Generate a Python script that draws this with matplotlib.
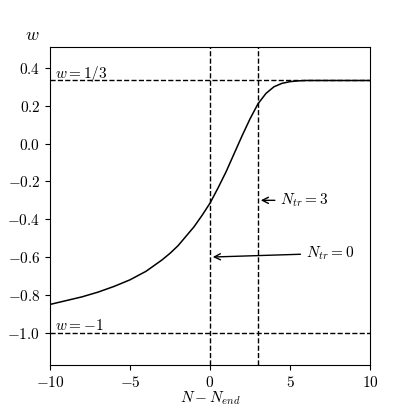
import numpy as np
import matplotlib.pyplot as plt

plt.rcParams['mathtext.fontset'] = 'cm'
plt.rcParams['font.family'] = 'serif'
plt.rcParams['font.serif'] = ['DejaVu Serif']

# curve
n = [-10, -9, -8, -7, -6, -5, -4, -3, -2.5, -2, -1.5, -1, -0.5, 0, 0.5, 1, 1.5, 2,
     2.5, 3, 3.5, 4, 4.5, 5, 5.5, 6, 7, 8, 10]
w = [-0.85, -0.83, -0.81, -0.785, -0.755, -0.72, -0.675, -0.615, -0.58, -0.54,
     -0.49, -0.44, -0.38, -0.315, -0.235, -0.15, -0.055, 0.04, 0.13, 0.21,
     0.265, 0.30, 0.318, 0.327, 0.331, 0.333, 0.333, 0.333, 0.333]
xticks = [-10, -5, 0, 5, 10]
yticks = [-1.0, -0.8, -0.6, -0.4, -0.2, 0.0, 0.2, 0.4]

fig = plt.figure(figsize=(4.09, 4.09), dpi=100)
ax = fig.add_axes([50/409, 44/409, 320/409, 318/409])
ax.plot(n, w, color='black', lw=1.1)
ax.axhline(1/3, color='black', ls='--', lw=1)
ax.axhline(-1, color='black', ls='--', lw=1)
ax.axvline(0, color='black', ls='--', lw=1)
ax.axvline(3, color='black', ls='--', lw=1)
ax.set_xlim(-10, 10)
ax.set_ylim(-1.17, 0.51)
ax.set_xticks(xticks)
ax.set_xticklabels([f'${t}$' for t in xticks])
ax.set_yticks(yticks)
ax.set_yticklabels([f'${t:.1f}$' for t in yticks])
ax.tick_params(direction='out', labelsize=11)
ax.set_xlabel('$N - N_{end}$', fontsize=11, labelpad=0)
fig.text(25/409, 1 - 40/409, '$w$', fontsize=13)

ax.text(-9.7, 0.345, '$w = 1/3$', fontsize=11)
ax.text(-9.7, -0.985, '$w = -1$', fontsize=11)
ax.annotate('$N_{tr} = 3$', xy=(3, -0.3), xytext=(4.4, -0.3), fontsize=11,
            va='center', arrowprops=dict(arrowstyle='->', color='black'))
ax.annotate('$N_{tr} = 0$', xy=(0, -0.6), xytext=(6.0, -0.58), fontsize=11,
            va='center', arrowprops=dict(arrowstyle='->', color='black'))

fig.savefig('out.png', dpi=100)
